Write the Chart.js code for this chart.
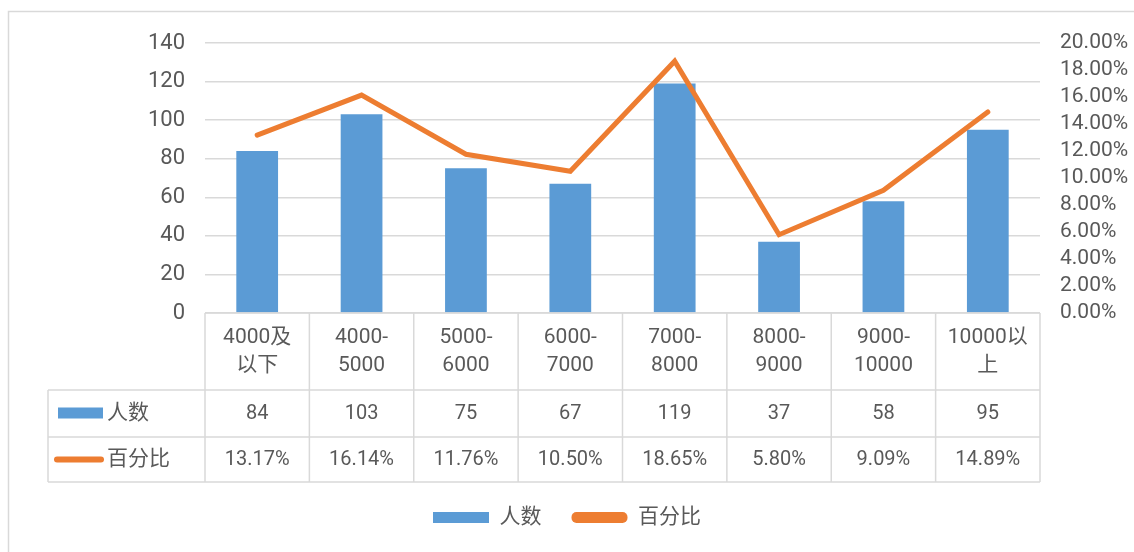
<!DOCTYPE html>
<html>
<head>
<meta charset="utf-8">
<script src="https://cdn.jsdelivr.net/npm/chart.js@4.4.1/dist/chart.umd.min.js"></script>
<style>
  html, body { margin: 0; padding: 0; background: #fff; }
  canvas { display: block; }
</style>
</head>
<body>
<canvas id="myChart" width="1134" height="552"></canvas>
<script>
// data
const categories = [['4000及', '以下'], ['4000-', '5000'], ['5000-', '6000'], ['6000-', '7000'],
  ['7000-', '8000'], ['8000-', '9000'], ['9000-', '10000'], ['10000以', '上']];
const counts = [84, 103, 75, 67, 119, 37, 58, 95];
const percents = [13.17, 16.14, 11.76, 10.50, 18.65, 5.80, 9.09, 14.89];
const seriesNames = ['人数', '百分比'];
const leftTicks = [0, 20, 40, 60, 80, 100, 120, 140];
const rightTicks = [0, 2, 4, 6, 8, 10, 12, 14, 16, 18, 20];

const blue = '#5B9BD5';
const orange = '#ED7D31';
const gridColor = '#D9D9D9';
const textColor = '#595959';
const fontFamily = "Roboto, 'Noto Sans CJK SC', sans-serif";

// draws the outer frame and the data table under the plot
const tablePlugin = {
  id: 'dataTable',
  beforeDraw(chart) {
    const ctx = chart.ctx;
    ctx.save();
    ctx.fillStyle = '#fff';
    ctx.fillRect(0, 0, chart.width, chart.height);
    ctx.strokeStyle = gridColor;
    ctx.lineWidth = 1.5;
    ctx.strokeRect(8.5, 11.5, chart.width + 20, chart.height + 20);
    ctx.restore();
  },
  afterDraw(chart) {
    const ctx = chart.ctx;
    const area = chart.chartArea;
    const x = chart.scales.x;
    const top = area.bottom;
    const row1 = top + 77;
    const row2 = row1 + 47;
    const row3 = row2 + 45;
    const labelLeft = 48;
    const step = (area.right - area.left) / categories.length;

    ctx.save();
    ctx.strokeStyle = gridColor;
    ctx.lineWidth = 1.5;
    ctx.beginPath();
    ctx.moveTo(area.left, top); ctx.lineTo(area.right, top);
    [row1, row2, row3].forEach(y => { ctx.moveTo(labelLeft, y); ctx.lineTo(area.right, y); });
    for (let i = 0; i <= categories.length; i++) {
      const px = area.left + step * i;
      ctx.moveTo(px, top); ctx.lineTo(px, row3);
    }
    ctx.moveTo(labelLeft, row1); ctx.lineTo(labelLeft, row3);
    ctx.stroke();

    ctx.fillStyle = textColor;
    ctx.textAlign = 'center';
    ctx.textBaseline = 'middle';
    categories.forEach((lines, i) => {
      const cx = x.getPixelForValue(i);
      ctx.font = '21px ' + fontFamily;
      ctx.fillText(lines[0], cx, top + 25);
      ctx.fillText(lines[1], cx, top + 53);
      ctx.font = '20px ' + fontFamily;
      ctx.fillText(String(counts[i]), cx, (row1 + row2) / 2);
      ctx.fillText(percents[i].toFixed(2) + '%', cx, (row2 + row3) / 2);
    });

    // series keys in the table
    ctx.fillStyle = blue;
    ctx.fillRect(58, (row1 + row2) / 2 - 6, 45, 11);
    ctx.strokeStyle = orange;
    ctx.lineWidth = 6;
    ctx.lineCap = 'round';
    ctx.beginPath();
    ctx.moveTo(57, (row2 + row3) / 2);
    ctx.lineTo(101, (row2 + row3) / 2);
    ctx.stroke();
    ctx.fillStyle = textColor;
    ctx.textAlign = 'left';
    ctx.font = '21px ' + fontFamily;
    ctx.fillText(seriesNames[0], 107, (row1 + row2) / 2);
    ctx.fillText(seriesNames[1], 107, (row2 + row3) / 2);
    ctx.restore();
  }
};

const ctx = document.getElementById('myChart').getContext('2d');
const chart = new Chart(ctx, {
  type: 'bar',
  data: {
    labels: categories.map(c => c.join('')),
    datasets: [{
      type: 'bar',
      label: seriesNames[0],
      data: counts,
      backgroundColor: blue,
      categoryPercentage: 1,
      barPercentage: 0.4,
      yAxisID: 'y',
      order: 2
    }, {
      type: 'line',
      label: seriesNames[1],
      data: percents,
      borderColor: orange,
      backgroundColor: orange,
      borderWidth: 5,
      borderCapStyle: 'round',
      pointRadius: 0,
      tension: 0,
      yAxisID: 'y1',
      order: 1
    }]
  },
  options: {
    responsive: false,
    animation: false,
    layout: { padding: { top: 43, bottom: 14, left: 0, right: 0 } },
    plugins: {
      tooltip: { enabled: false },
      legend: {
        position: 'bottom',
        labels: {
          color: textColor,
          font: { size: 21, family: fontFamily },
          boxWidth: 56,
          boxHeight: 11,
          padding: 30,
          sort: (a, b) => a.datasetIndex - b.datasetIndex,
          generateLabels(chart) {
            const items = Chart.defaults.plugins.legend.labels.generateLabels(chart);
            items.forEach(it => {
              it.lineWidth = 0;
              if (it.datasetIndex === 1) it.borderRadius = 5;
            });
            return items;
          },
          useBorderRadius: true
        }
      }
    },
    scales: {
      x: {
        grid: { display: false },
        border: { display: false },
        ticks: { display: false },
        afterFit(scale) { scale.height = 164; }
      },
      y: {
        position: 'left',
        min: 0,
        max: 140,
        afterBuildTicks(scale) { scale.ticks = leftTicks.map(v => ({ value: v })); },
        grid: { color: gridColor, lineWidth: 1.5, drawTicks: false },
        border: { display: false },
        ticks: { color: textColor, font: { size: 22, family: fontFamily }, padding: 20, autoSkip: false },
        afterFit(scale) { scale.width = 205; }
      },
      y1: {
        position: 'right',
        min: 0,
        max: 20,
        afterBuildTicks(scale) { scale.ticks = rightTicks.map(v => ({ value: v })); },
        grid: { display: false, drawTicks: false },
        border: { display: false },
        ticks: {
          color: textColor,
          font: { size: 21, family: fontFamily },
          padding: 20,
          autoSkip: false,
          callback: v => v.toFixed(2) + '%'
        },
        afterFit(scale) { scale.width = 94; }
      }
    }
  },
  plugins: [tablePlugin]
});
</script>
</body>
</html>
